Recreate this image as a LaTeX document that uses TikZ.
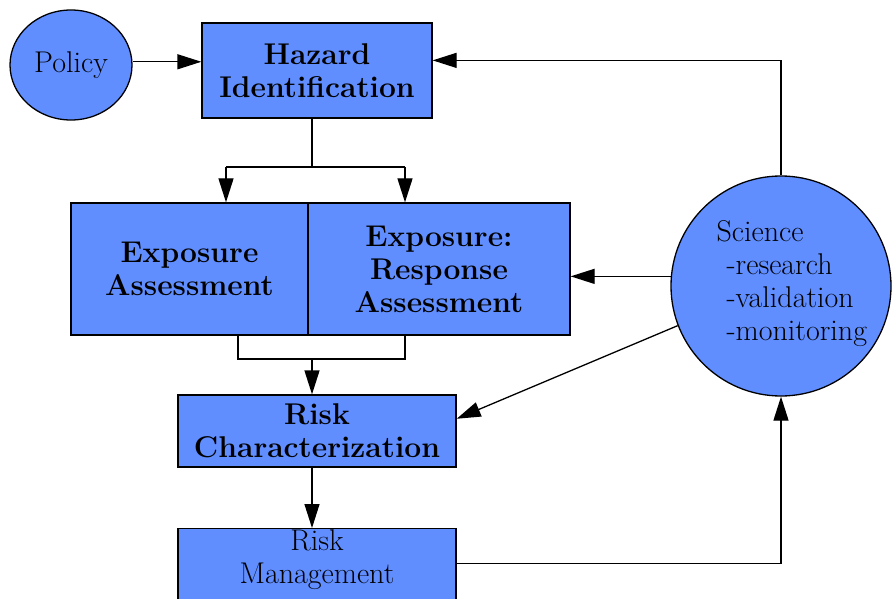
\documentclass[tikz,border=0pt]{standalone}
\usepackage{amsmath}
\usepackage{fontspec}
\usepackage{tikz}
\usetikzlibrary{arrows.meta,shapes.geometric}
\definecolor{riskblue}{RGB}{96,142,255}

\begin{document}
\begin{tikzpicture}[x=1pt,y=-1pt,line width=1.3pt,
        box/.style={draw,fill=riskblue,inner sep=0pt,align=center},
        bold/.style={font=\fontsize{30}{33}\selectfont\bfseries},
        plain/.style={font=\fontsize{30}{33}\selectfont},
        tip/.style={-{Triangle[length=24pt,width=15pt]}}]
        \useasboundingbox (0,0) rectangle (895,599);
        \clip (0,0) rectangle (895,599);
        \node[box,plain,ellipse,minimum width=122,minimum height=110] (policy) at (71,65) {Policy};
        \node[box,bold,minimum width=230,minimum height=95] (hazard) at (317,70.5) {Hazard\\Identification};
        \node[box,bold,minimum width=237,minimum height=132] (expA) at (189.5,269) {Exposure\\Assessment};
        \node[box,bold,minimum width=262,minimum height=132] (expR) at (439,269) {Exposure:\\Response\\Assessment};
        \node[box,bold,minimum width=278,minimum height=72] (riskC) at (317,431) {Risk\\Characterization};
        \node[box,minimum width=278,minimum height=84,anchor=north] (riskM) at (317,528) {};
        \node[plain,align=center] (riskMtext) at (317,560) {Risk\\Management};
        \node[box,circle,minimum size=220] (science) at (781,286) {};
        \node[plain,align=left,anchor=west,inner sep=0pt] (scitext) at (716,284) {Science\\\hspace*{10pt}-research\\\hspace*{10pt}-validation\\\hspace*{10pt}-monitoring};
        \coordinate (hzsplit) at (312,167);
        \coordinate (hzl) at (226,167);
        \coordinate (hzr) at (405,167);
        \coordinate (exl) at (238,359);
        \coordinate (exr) at (405,359);
        \draw[tip] (policy.3) -- (hazard.west |- policy.3);
        \draw (hzsplit |- hazard.south) -- (hzsplit);
        \draw (hzl) -- (hzr);
        \draw[tip] (hzl) -- (hzl |- expA.north);
        \draw[tip] (hzr) -- (hzr |- expR.north);
        \draw (exl |- expA.south) -- (exl) -- (exr) -- (exr |- expR.south);
        \draw[tip] (hzsplit |- exl) -- (hzsplit |- riskC.north);
        \draw[tip] (hzsplit |- riskC.south) -- (hzsplit |- riskM.north);
        \draw[tip] (riskM.3) -| (science.south);
        \draw[tip] (science.175) -- (expR.east |- science.175);
        \draw[tip] (science.201) -- (riskC.5);
        \draw[tip] (science.north) |- (hazard.5);
    \end{tikzpicture}
\end{document}
